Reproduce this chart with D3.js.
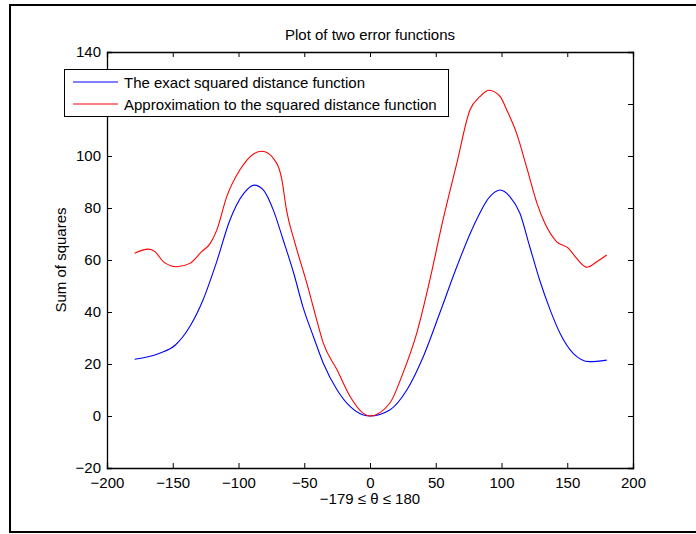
<!DOCTYPE html>
<html>
<head>
<meta charset="utf-8">
<script src="https://cdn.jsdelivr.net/npm/d3@7"></script>
<style>
html,body{margin:0;padding:0;background:#fff;}
svg{display:block;}
text{font-family:"Liberation Sans",Arial,Helvetica,sans-serif;fill:#000;}
</style>
</head>
<body>
<svg id="chart" width="696" height="534"></svg>
<script>
const titleText = "Plot of two error functions";
const xLabel = "\u2212179 \u2264 \u03b8 \u2264 180";
const yLabel = "Sum of squares";
const seriesNames = ["The exact squared distance function", "Approximation to the squared distance function"];
const xTicks = [-200, -150, -100, -50, 0, 50, 100, 150, 200];
const yTicks = [-20, 0, 20, 40, 60, 80, 100, 120, 140];

const exactX = [-179, -160, -148, -137, -127, -117, -106.5, -96, -88, -81, -73.5, -66, -58, -51, -43, -35.5, -25, -15, -5, 0, 15, 28, 40.5, 53, 66, 78.5, 91, 99, 106.5, 114, 121.5, 129, 137, 144.5, 154.5, 167, 180];
const exactY = [21.8, 24.1, 27.3, 34.4, 44.6, 58.7, 75.4, 85.6, 88.8, 86.9, 79.2, 67.7, 54.9, 42.0, 30.5, 20.3, 10.0, 3.6, 0.4, 0, 2.3, 10.0, 22.8, 39.5, 57.4, 72.8, 84.3, 86.9, 84.3, 78.0, 65.1, 52.3, 40.8, 31.8, 24.1, 20.9, 21.5];

const approxX = [-179, -168.5, -163.5, -157, -147, -137, -128, -121.5, -116.5, -109, -99, -88.5, -82, -73.5, -67, -63.5, -57, -48, -40.5, -35.5, -25, -15, -5, 0, 15, 25, 35.5, 45.5, 55.5, 66, 76, 83.5, 90.5, 99, 104, 111.5, 119, 127, 133, 142, 151, 157, 165, 172.5, 180];
const approxY = [62.6, 64.2, 63.2, 59.3, 57.4, 58.7, 63.2, 66.4, 71.5, 84.3, 94.6, 100.8, 101.8, 99.1, 90.8, 79.2, 66.4, 51.0, 36.9, 28.0, 17.7, 7.4, 1.0, 0, 4.9, 16.4, 31.8, 52.3, 75.4, 97.2, 117.7, 122.8, 125.3, 122.8, 117.7, 108.7, 95.9, 81.8, 74.1, 67.0, 64.5, 60.7, 57.2, 59.3, 61.9];

const svg = d3.select("#chart");
const L = 107, R = 633, T = 52, B = 468;
const x = d3.scaleLinear().domain([-200, 200]).range([L, R]);
const y = d3.scaleLinear().domain([-20, 140]).range([B, T]);

// outer figure frame
svg.append("path").attr("d", `M700,5 H10 V532 H700`).attr("fill", "none").attr("stroke", "#000").attr("stroke-width", 2);

const fs = 15;
const tick = 5;
const g = svg.append("g");

// axes (box with inward ticks)
const bottomAxis = d3.axisBottom(x).tickValues(xTicks).tickSize(-tick).tickPadding(9).tickFormat(d => d < 0 ? "\u2212" + Math.abs(d) : d);
const topAxis = d3.axisTop(x).tickValues(xTicks).tickSize(-tick).tickFormat("");
const leftAxis = d3.axisLeft(y).tickValues(yTicks).tickSize(-tick).tickPadding(6).tickFormat(d => d < 0 ? "\u2212" + Math.abs(d) : d);
const rightAxis = d3.axisRight(y).tickValues(yTicks).tickSize(-tick).tickFormat("");

function style(sel) {
  sel.select(".domain").attr("stroke", "#000").attr("stroke-width", 1.3);
  sel.selectAll(".tick line").attr("stroke", "#000").attr("stroke-width", 1);
  sel.selectAll("text").attr("font-size", fs).attr("font-family", "Liberation Sans, Arial, sans-serif").attr("fill", "#000");
}
g.append("g").attr("transform", `translate(0,${B})`).call(bottomAxis).call(style);
g.append("g").attr("transform", `translate(0,${T})`).call(topAxis).call(style);
g.append("g").attr("transform", `translate(${L},0)`).call(leftAxis).call(style);
g.append("g").attr("transform", `translate(${R},0)`).call(rightAxis).call(style);

// lines
const line = d3.line().x(d => x(d[0])).y(d => y(d[1])).curve(d3.curveMonotoneX);
svg.append("path").datum(d3.zip(exactX, exactY)).attr("d", line).attr("fill", "none").attr("stroke", "#0000ff").attr("stroke-width", 1.1);
svg.append("path").datum(d3.zip(approxX, approxY)).attr("d", line).attr("fill", "none").attr("stroke", "#ff0000").attr("stroke-width", 1.1);

// title and labels
svg.append("text").attr("x", 370).attr("y", 40).attr("text-anchor", "middle").attr("font-size", fs).text(titleText);
svg.append("text").attr("x", 370).attr("y", 504).attr("text-anchor", "middle").attr("font-size", fs).text(xLabel);
svg.append("text").attr("transform", `translate(66,${(T + B) / 2}) rotate(-90)`).attr("text-anchor", "middle").attr("font-size", fs).text(yLabel);

// legend
const lg = svg.append("g");
lg.append("rect").attr("x", 64.5).attr("y", 69.5).attr("width", 384).attr("height", 47).attr("fill", "#fff").attr("stroke", "#000").attr("stroke-width", 1);
const colors = ["#0000ff", "#ff0000"];
seriesNames.forEach((n, i) => {
  const yy = 82 + i * 22;
  lg.append("line").attr("x1", 73).attr("x2", 118).attr("y1", yy).attr("y2", yy).attr("stroke", colors[i]).attr("stroke-width", 1.1);
  lg.append("text").attr("x", 124).attr("y", yy + 5.5).attr("font-size", fs).text(n);
});
</script>
</body>
</html>
